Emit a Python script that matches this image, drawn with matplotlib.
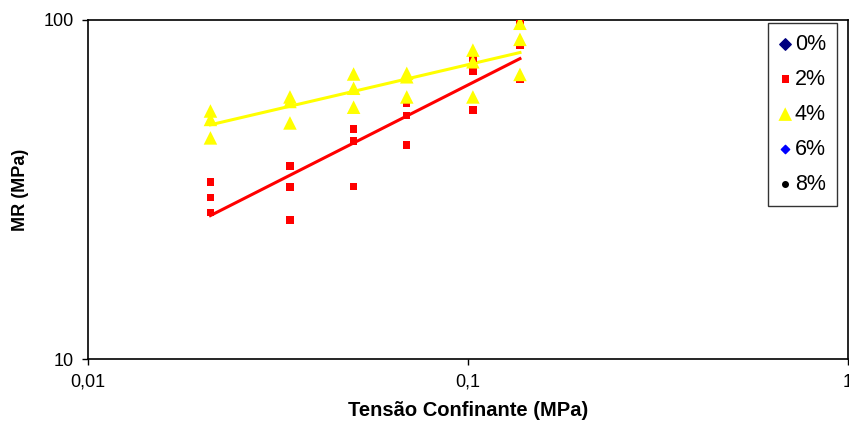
import numpy as np
import matplotlib
matplotlib.use("Agg")
import matplotlib.pyplot as plt
from matplotlib.ticker import FixedLocator, FixedFormatter, NullLocator

plt.rcParams['font.family'] = ['Liberation Sans', 'DejaVu Sans']

# Confining stress levels (MPa)
sigma3 = [0.021, 0.034, 0.050, 0.069, 0.103, 0.137]

# Resilient modulus (MPa), three readings per stress level
mr_2 = [
    [33.3, 29.9, 27.0],
    [37.1, 32.2, 25.7],
    [47.7, 44.0, 32.3],
    [56.8, 52.3, 42.8],
    [77.1, 70.4, 54.3],
    [97.8, 84.4, 66.8],
]
mr_4 = [
    [53.9, 50.9, 44.9],
    [59.3, 57.5, 49.7],
    [69.3, 62.9, 55.3],
    [69.6, 68.0, 59.3],
    [81.5, 75.3, 59.3],
    [97.8, 87.7, 69.1],
]

series_labels = ["0%", "2%", "4%", "6%", "8%"]
x_ticks = [0.01, 0.1, 1]
x_tick_labels = ["0,01", "0,1", "1"]
y_ticks = [10, 100]
y_tick_labels = ["10", "100"]


def expand(values):
    xs, ys = [], []
    for s, row in zip(sigma3, values):
        for v in row:
            xs.append(s)
            ys.append(v)
    return np.array(xs), np.array(ys)


def power_fit(xs, ys):
    b, log_a = np.polyfit(np.log(xs), np.log(ys), 1)
    return np.exp(log_a), b


fig = plt.figure(figsize=(8.49, 4.24), dpi=100)
ax = fig.add_axes([88 / 849, 1 - 359 / 424, (848 - 88) / 849, (359 - 20) / 424])
ax.set_xscale('log')
ax.set_yscale('log')
ax.set_xlim(0.01, 1)
ax.set_ylim(10, 100)

# empty series kept for the legend
ax.scatter([], [], marker='D', s=34, color='#000080', label=series_labels[0])
x2, y2 = expand(mr_2)
ax.scatter(x2, y2, marker='s', s=28, color='#ff0000', edgecolors='none',
           label=series_labels[1], zorder=3)
x4, y4 = expand(mr_4)
ax.scatter(x4, y4, marker='^', s=95, color='#ffff00', edgecolors='none',
           label=series_labels[2], zorder=4)
ax.scatter([], [], marker='D', s=18, color='#0000ff', label=series_labels[3])
ax.scatter([], [], marker='o', s=16, color='#000000', label=series_labels[4])

# power trend lines
xx = np.linspace(min(sigma3), max(sigma3), 100)
a2, b2 = power_fit(x2, y2)
ax.plot(xx, a2 * xx ** b2, color='#ff0000', lw=2.2, zorder=2)
a4, b4 = power_fit(x4, y4)
ax.plot(xx, a4 * xx ** b4, color='#ffff00', lw=2.2, zorder=2)

ax.xaxis.set_major_locator(FixedLocator(x_ticks))
ax.xaxis.set_major_formatter(FixedFormatter(x_tick_labels))
ax.xaxis.set_minor_locator(NullLocator())
ax.yaxis.set_major_locator(FixedLocator(y_ticks))
ax.yaxis.set_major_formatter(FixedFormatter(y_tick_labels))
ax.yaxis.set_minor_locator(NullLocator())
ax.tick_params(direction='out', length=4.5, width=1, labelsize=13, pad=6)

for sp in ax.spines.values():
    sp.set_linewidth(1.2)
    sp.set_color('black')

ax.set_xlabel("Tensão Confinante (MPa)", fontsize=14.5, fontweight='bold')
ax.set_ylabel("MR (MPa)", fontsize=13, fontweight='bold')
ax.xaxis.set_label_coords(0.5, -0.124)
ax.yaxis.set_label_coords(-0.078, 0.5)

leg = ax.legend(loc='upper left', bbox_to_anchor=(768 / 849, 1 - 23 / 424),
                bbox_transform=fig.transFigure, frameon=True, fancybox=False,
                edgecolor='black', fontsize=15.5, handletextpad=0.15,
                handlelength=0.6, labelspacing=0.65, borderpad=0.5,
                borderaxespad=0)
leg.get_frame().set_linewidth(1.0)

fig.savefig("out.png", dpi=100)
